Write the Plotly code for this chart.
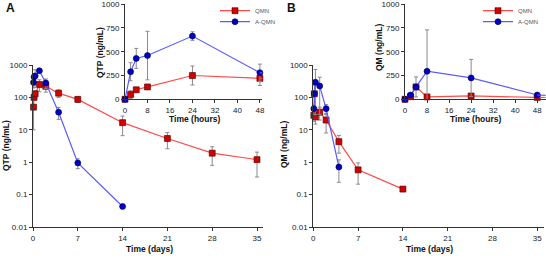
import plotly.graph_objects as go

# ---------------- data (hours after dosing) ----------------
qtp_qmn_h = [0, 2, 4, 8, 24, 48, 96, 168, 336, 504, 672, 840]
qtp_qmn = [0, 50, 100, 130, 250, 220, 135, 87, 16.6, 5.4, 1.9, 1.2]
qtp_qmn_err = [0, 40, 15, 25, 100, 75, 35, 18, 10, 2.8, 1.1, 0.85]

qtp_aqmn_h = [0, 2, 4, 8, 24, 48, 96, 168, 336]
qtp_aqmn = [0, 290, 430, 460, 665, 280, 35, 0.95, 0.043]
qtp_aqmn_err = [0, 95, 105, 255, 45, 90, 14, 0.32, 0.004]

qm_qmn_h = [0, 2, 4, 8, 24, 48, 96, 168, 336]
qm_qmn = [0, 28, 130, 25, 35, 20, 4.3, 0.58, 0.148]
qm_qmn_err = [0, 10, 105, 10, 15, 12, 2.4, 0.37, 0]

qm_aqmn_h = [0, 2, 4, 8, 24, 48, 96]
qm_aqmn = [0, 45, 130, 295, 225, 45, 0.71]
qm_aqmn_err = [0, 15, 30, 435, 195, 15, 0.47]

series_names = ["QMN", "A-QMN"]
log_ticks = [0.01, 0.1, 1, 10, 100, 1000]
log_ticktext = ["0.01", "0.1", "1", "10", "100", "1000"]
day_ticks = [0, 7, 14, 21, 28, 35]
hour_ticks = [0, 8, 16, 24, 32, 40, 48]
lin_ticks = [0, 250, 500, 750, 1000]

RED_LINE, RED_MK = "#ff4a4a", "#d40000"
BLUE_LINE, BLUE_MK = "#5a5aff", "#0000c8"
ERR = "#8a8a8a"
FONT = "Liberation Sans"

W, H = 546, 258
def px(x):
    return x / W
def py(y):
    return 1 - y / H

fig = go.Figure()

def mk(symbol, color):
    return dict(symbol=symbol, size=6, color=color,
                line=dict(color="#400000" if symbol == "square" else "#000040", width=0.6))

def main_trace(h, v, e, color_line, color_mk, symbol, xa, ya):
    xs, ys, ep, em = [], [], [], []
    for hh, vv, ee in zip(h, v, e):
        if vv > 0:
            xs.append(hh / 24.0)
            ys.append(vv)
            ep.append(ee)
            em.append(ee if ee < vv else vv * 0.9)
    fig.add_trace(go.Scatter(
        x=xs, y=ys, mode="lines+markers", xaxis=xa, yaxis=ya, showlegend=False,
        line=dict(color=color_line, width=1.2), cliponaxis=False, marker=mk(symbol, color_mk),
        error_y=dict(type="data", symmetric=False, array=ep, arrayminus=em, color=ERR, thickness=1, width=2)))

def inset_traces(h, v, e, color_line, color_mk, symbol, name, xa, ya, legend):
    xs = [hh for hh in h if hh <= 48]
    n = len(xs)
    fig.add_trace(go.Scatter(
        x=xs, y=v[:n], mode="lines+markers", xaxis=xa, yaxis=ya, name=name, legend=legend,
        line=dict(color=color_line, width=1.2), cliponaxis=False, marker=mk(symbol, color_mk),
        error_y=dict(type="data", array=e[:n], color=ERR, thickness=1, width=2)))
    if len(h) > n:
        fig.add_trace(go.Scatter(
            x=h[n - 1:n + 1], y=v[n - 1:n + 1], mode="lines", xaxis=xa, yaxis=ya, showlegend=False,
            line=dict(color=color_line, width=1.2), cliponaxis=True, hoverinfo="skip"))

# Panel A main (log)
main_trace(qtp_qmn_h, qtp_qmn, qtp_qmn_err, RED_LINE, RED_MK, "square", "x", "y")
main_trace(qtp_aqmn_h, qtp_aqmn, qtp_aqmn_err, BLUE_LINE, BLUE_MK, "circle", "x", "y")
# Panel A inset
inset_traces(qtp_qmn_h, qtp_qmn, qtp_qmn_err, RED_LINE, RED_MK, "square", series_names[0], "x2", "y2", "legend")
inset_traces(qtp_aqmn_h, qtp_aqmn, qtp_aqmn_err, BLUE_LINE, BLUE_MK, "circle", series_names[1], "x2", "y2", "legend2")
# Panel B main
main_trace(qm_qmn_h, qm_qmn, qm_qmn_err, RED_LINE, RED_MK, "square", "x3", "y3")
main_trace(qm_aqmn_h, qm_aqmn, qm_aqmn_err, BLUE_LINE, BLUE_MK, "circle", "x3", "y3")
# Panel B inset
inset_traces(qm_qmn_h, qm_qmn, qm_qmn_err, RED_LINE, RED_MK, "square", series_names[0], "x4", "y4", "legend3")
inset_traces(qm_aqmn_h, qm_aqmn, qm_aqmn_err, BLUE_LINE, BLUE_MK, "circle", series_names[1], "x4", "y4", "legend4")

tickfont = dict(family=FONT, size=8, color="#222")
axis_common = dict(showline=True, linecolor="#333", linewidth=1, showgrid=False, zeroline=False,
                   ticks="outside", ticklen=3, tickwidth=1, tickcolor="#333", tickfont=tickfont,
                   automargin=False)

main_y = [py(227), py(65)]
inset_y = [py(99.3), py(4.2)]

def leg(xpix, ypix):
    return dict(x=px(xpix), y=py(ypix), xref="container", yref="container",
                xanchor="left", yanchor="middle", bgcolor="rgba(0,0,0,0)",
                font=dict(family=FONT, size=6, color="#555"), itemwidth=30, borderwidth=0)

fig.update_layout(
    width=W, height=H, margin=dict(l=0, r=0, t=0, b=0, autoexpand=False),
    paper_bgcolor="white", plot_bgcolor="rgba(0,0,0,0)",
    font=dict(family=FONT),
    xaxis=dict(domain=[px(33), px(33 + 36 * 6.4)], range=[0, 36], tickvals=day_ticks, anchor="y", **axis_common),
    yaxis=dict(domain=main_y, type="log", range=[-2, 3], tickvals=log_ticks, ticktext=log_ticktext, anchor="x", **axis_common),
    xaxis2=dict(domain=[px(125), px(125 + 48.8 * 2.81)], range=[0, 48.8], tickvals=hour_ticks, anchor="y2", **axis_common),
    yaxis2=dict(domain=inset_y, range=[0, 1000], tickvals=lin_ticks, anchor="x2", **axis_common),
    xaxis3=dict(domain=[px(313.3), px(313.3 + 36 * 6.4)], range=[0, 36], tickvals=day_ticks, anchor="y3", **axis_common),
    yaxis3=dict(domain=main_y, type="log", range=[-2, 3], tickvals=log_ticks, ticktext=log_ticktext, anchor="x3", **axis_common),
    xaxis4=dict(domain=[px(405), px(545.5)], range=[0, 51], tickvals=hour_ticks, anchor="y4", **axis_common),
    yaxis4=dict(domain=inset_y, range=[0, 1000], tickvals=lin_ticks, anchor="x4", **axis_common),
    legend=leg(215, 10.7),
    legend2=leg(215, 21.7),
    legend3=leg(478, 10.7),
    legend4=leg(478, 21.7),
)

title_font = dict(family=FONT, size=8.5, color="#111")
def ann(text, x, y, angle=0, size=None):
    f = dict(title_font)
    if size:
        f["size"] = size
    fig.add_annotation(text="<b>%s</b>" % text, x=px(x), y=py(y), xref="paper", yref="paper",
                       showarrow=False, textangle=angle, font=f, xanchor="center", yanchor="middle")

ann("A", 10, 8, size=12)
ann("B", 291, 8, size=12)
ann("QTP (ng/mL)", 6, 146, angle=-90)
ann("Time (days)", 149, 249)
ann("QTP (ng/mL)", 100, 53, angle=-90)
ann("Time (hours)", 194, 119)
ann("QM (ng/mL)", 284, 145, angle=-90)
ann("Time (days)", 429, 249)
ann("QM (ng/mL)", 379, 48, angle=-90)
ann("Time (hours)", 475, 119)

fig.write_html("out.html", config={"displayModeBar": False},
               post_script="document.body.style.margin='0px';document.body.style.overflow='hidden';")
